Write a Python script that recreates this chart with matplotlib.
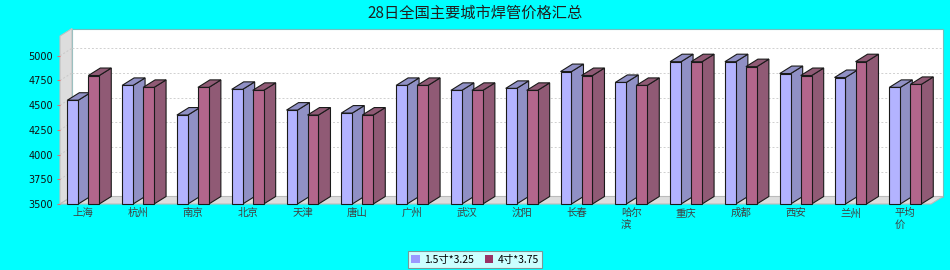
import matplotlib
matplotlib.use("Agg")
import matplotlib.pyplot as plt
from matplotlib.patches import Polygon, Patch

plt.rcParams['font.family'] = ['Noto Sans CJK SC', 'DejaVu Sans']

title = "28日全国主要城市焊管价格汇总"
categories = ['上海', '杭州', '南京', '北京', '天津', '唐山', '广州', '武汉', '沈阳',
              '长春', '哈尔滨', '重庆', '成都', '西安', '兰州', '平均价']
series_names = ['1.5寸*3.25', '4寸*3.75']
values_a = [4550, 4700, 4400, 4660, 4450, 4420, 4700, 4650, 4670,
            4840, 4730, 4940, 4940, 4820, 4780, 4680]
values_b = [4800, 4680, 4680, 4650, 4400, 4400, 4700, 4650, 4650,
            4800, 4700, 4940, 4890, 4800, 4940, 4710]
yticks = [3500, 3750, 4000, 4250, 4500, 4750, 5000]
ymin, ymax = 3500, 5200

# styling
bg = '#00FFFF'
fronts = ['#B3B3FF', '#B3668C']
sides = ['#9090C5', '#905A75']
legend_cols = ['#9999FF', '#993366']
DX_PX, DY_PX = 12, 7.5

fig = plt.figure(figsize=(9.5, 2.7), dpi=100, facecolor=bg)
W, H = 950, 270
ax = fig.add_axes([60 / W, (H - 204) / H, 871 / W, 168 / H])
ax.set_facecolor('none')
for s in ax.spines.values():
    s.set_visible(False)
x0, x1 = -0.425, 15.469
ax.set_xlim(x0, x1)
ax.set_ylim(ymin, ymax)

bb = ax.get_position()
ax_w_px = bb.width * W
ax_h_px = bb.height * H
dx = DX_PX * (x1 - x0) / ax_w_px
dy = DY_PX * (ymax - ymin) / ax_h_px

# walls
back = Polygon([(x0 + dx, ymin + dy), (x1 + dx, ymin + dy), (x1 + dx, ymax + dy), (x0 + dx, ymax + dy)],
               closed=True, facecolor='white', edgecolor='#70C0C0', lw=0.8, zorder=0.5, clip_on=False)
ax.add_patch(back)
left = Polygon([(x0, ymin), (x0 + dx, ymin + dy), (x0 + dx, ymax + dy), (x0, ymax)],
               closed=True, facecolor='#DDDDDD', edgecolor='#C0C0C0', lw=0.8, zorder=0.6, clip_on=False)
ax.add_patch(left)
floor = Polygon([(x0, ymin), (x0 + dx, ymin + dy), (x1 + dx, ymin + dy), (x1, ymin)],
                closed=True, facecolor='#DDDDDD', edgecolor='#BBBBBB', lw=0.8, zorder=0.6, clip_on=False)
ax.add_patch(floor)

for v in yticks[1:]:
    ax.plot([x0 + dx, x1 + dx], [v + dy, v + dy], color='#D0D0D0', lw=0.7,
            dashes=(2, 2), zorder=0.7, clip_on=False)
    ax.plot([x0, x0 + dx], [v, v + dy], color='#C8C8C8', lw=0.7,
            dashes=(2, 2), zorder=0.7, clip_on=False)

bar_w = 0.2
offsets = [-0.1916, 0.1916]
xs = list(range(len(categories)))
for si, vals in enumerate([values_a, values_b]):
    z = 3 + si * 2
    xc = [x + offsets[si] for x in xs]
    ax.bar(xc, [v - ymin for v in vals], bottom=ymin, width=bar_w,
           color=fronts[si], edgecolor='#1A1A1A', lw=0.8, zorder=z + 1, clip_on=False)
    for c, v in zip(xc, vals):
        l, r = c - bar_w / 2, c + bar_w / 2
        side = Polygon([(r, ymin), (r + dx, ymin + dy), (r + dx, v + dy), (r, v)], closed=True,
                       facecolor=sides[si], edgecolor='#1A1A1A', lw=0.8, zorder=z, clip_on=False)
        top = Polygon([(l, v), (l + dx, v + dy), (r + dx, v + dy), (r, v)], closed=True,
                      facecolor=sides[si], edgecolor='#1A1A1A', lw=0.8, zorder=z, clip_on=False)
        ax.add_patch(side)
        ax.add_patch(top)

ax.set_yticks(yticks)
ax.set_yticklabels([str(v) for v in yticks], fontsize=7, family='DejaVu Sans', color='#111111')
ax.tick_params(axis='y', length=2.3, width=0.8, color='#E07070', pad=2.8)

labels = [c if len(c) <= 2 else c[:2] + '\n' + c[2:] for c in categories]
ax.set_xticks(xs)
ax.set_xticklabels(labels, fontsize=7.5, color='#404040', linespacing=1.25)
for t in ax.get_xticklabels():
    t.set_multialignment('left')
ax.tick_params(axis='x', length=0, pad=3)

fig.text(0.5, 1 - 13 / H, title, ha='center', va='center', fontsize=11, color='#202020')

handles = [Patch(facecolor=legend_cols[i], edgecolor='none', label=series_names[i]) for i in range(2)]
leg = fig.legend(handles=handles, loc='center', bbox_to_anchor=(475 / W, 1 - 259.5 / H), ncol=2,
                 fontsize=7.5, frameon=True, fancybox=False, edgecolor='#808080',
                 handlelength=0.8, handleheight=0.8, handletextpad=0.4, columnspacing=1.1,
                 borderpad=0.3, borderaxespad=0)
leg.get_frame().set_linewidth(0.8)

fig.savefig('out.png', dpi=100, facecolor=bg)
